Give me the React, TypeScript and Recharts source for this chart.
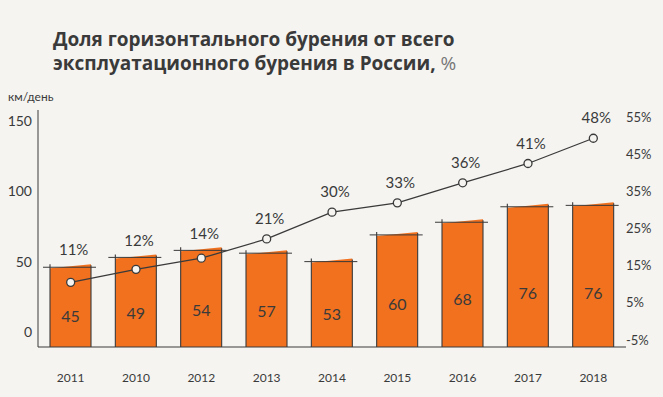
import React from 'react';
import { ComposedChart, Bar, Line, XAxis, YAxis, LabelList } from 'recharts';

const years = ['2011', '2010', '2012', '2013', '2014', '2015', '2016', '2017', '2018'];
const barHeights = [46, 53, 58, 56, 50, 69, 78, 89, 90];
const barLabels = ['45', '49', '54', '57', '53', '60', '68', '76', '76'];
const shareValues = [10.5, 14, 17, 22.2, 29.4, 31.9, 37.3, 42.5, 49.3];
const shareLabels = ['11%', '12%', '14%', '21%', '30%', '33%', '36%', '41%', '48%'];
const leftTicks = [0, 50, 100, 150];
const rightTicks = [-5, 5, 15, 25, 35, 45, 55];

const LEFT_DOMAIN: [number, number] = [-10.7, 157.8];
const RIGHT_DOMAIN: [number, number] = [-6.9, 56.9];
const W = 663;
const H = 397;
const M_TOP = 110;
const X_AXIS_H = 50;
const PLOT_H = H - M_TOP - X_AXIS_H;

const BG = '#F5F4F1';
const ORANGE = '#F1711F';
const INK = '#3a3a3a';
const HAND = 'Lato, "Open Sans", sans-serif';

const data = years.map((year, i) => ({
  year,
  bar: [LEFT_DOMAIN[0], barHeights[i]],
  barTop: barHeights[i],
  barLabel: barLabels[i],
  share: shareValues[i],
  shareLabel: shareLabels[i],
}));

const SketchBar = (props: any) => {
  const { x, y, width, height } = props;
  if (height == null || height <= 0) return null;
  const b = y + height;
  return (
    <g>
      <polygon
        points={`${x},${y + 1} ${x + width},${y - 3} ${x + width},${b} ${x},${b}`}
        fill={ORANGE}
      />
      <line x1={x} y1={y - 3} x2={x} y2={b} stroke={INK} strokeWidth={1.1} />
      <line x1={x + width} y1={y - 2} x2={x + width} y2={b} stroke={INK} strokeWidth={1.1} />
      <line x1={x - 7} y1={y} x2={x + width + 5} y2={y} stroke={INK} strokeWidth={1} />
    </g>
  );
};

const BarValueLabel = (props: any) => {
  const { x, y, width, height, value } = props;
  const cy = y + height - 0.38 * height;
  return (
    <text x={x + width / 2} y={cy} dy="0.35em" textAnchor="middle" fontFamily={HAND} fontSize={16} fill={INK}>
      {value}
    </text>
  );
};

const ShareLabel = (props: any) => {
  const { x, y, index, value } = props;
  const d = data[index];
  const pointFrac = (d.share - RIGHT_DOMAIN[0]) / (RIGHT_DOMAIN[1] - RIGHT_DOMAIN[0]);
  const barFrac = (d.barTop - LEFT_DOMAIN[0]) / (LEFT_DOMAIN[1] - LEFT_DOMAIN[0]);
  const barTopY = y + (pointFrac - barFrac) * PLOT_H;
  const ly = Math.min(y - 20, barTopY - 17);
  return (
    <text x={x + 3} y={ly} dy="0.35em" textAnchor="middle" fontFamily={HAND} fontSize={15} fill={INK}>
      {value}
    </text>
  );
};

const YearTick = (props: any) => {
  const { x, y, payload } = props;
  return (
    <text x={x} y={y + 35} textAnchor="middle" fontFamily={HAND} fontSize={12} fill={INK}>
      {payload.value}
    </text>
  );
};

export default function App() {
  return (
    <div style={{ position: 'absolute', left: 0, top: 0, width: W, height: H, background: BG, overflow: 'hidden' }}>
      <div
        style={{
          position: 'absolute',
          left: 53,
          top: 27,
          fontFamily: '"Open Sans", sans-serif',
          fontWeight: 700,
          fontSize: 19,
          lineHeight: '24px',
          color: INK,
          whiteSpace: 'nowrap',
        }}
      >
        <div style={{ height: 24 }}>Доля горизонтального бурения от всего</div>
        <div style={{ height: 24 }}>
          эксплуатационного бурения в России, <span style={{ fontWeight: 400, color: '#777' }}>%</span>
        </div>
      </div>
      <div
        style={{
          position: 'absolute',
          left: 8,
          top: 89,
          fontFamily: HAND,
          fontSize: 12,
          color: INK,
          whiteSpace: 'nowrap',
        }}
      >
        км/день
      </div>
      <div style={{ position: 'absolute', left: 0, top: 0 }}>
        <ComposedChart width={W} height={H} data={data} margin={{ top: M_TOP, right: 0, bottom: 0, left: 8 }}>
          <XAxis
            dataKey="year"
            height={X_AXIS_H}
            tickLine={false}
            tickSize={0}
            tickMargin={0}
            axisLine={{ stroke: INK, strokeWidth: 1 }}
            tick={<YearTick />}
            interval={0}
          />
          <YAxis
            yAxisId="left"
            orientation="left"
            width={30}
            domain={LEFT_DOMAIN}
            ticks={leftTicks}
            allowDataOverflow
            tickLine={false}
            tickSize={0}
            tickMargin={6}
            axisLine={{ stroke: INK, strokeWidth: 1 }}
            tick={{ fontFamily: HAND, fontSize: 14, fill: INK }}
          />
          <YAxis
            yAxisId="right"
            orientation="right"
            width={37}
            domain={RIGHT_DOMAIN}
            ticks={rightTicks}
            allowDataOverflow
            tickLine={false}
            axisLine={false}
            tickSize={0}
            tickMargin={0}
            tickFormatter={(v: number) => `${v}%`}
            tick={{ fontFamily: HAND, fontSize: 13, fill: INK, textAnchor: 'start' }}
          />
          <Bar yAxisId="left" dataKey="bar" barSize={41} shape={<SketchBar />} isAnimationActive={false}>
            <LabelList dataKey="barLabel" content={<BarValueLabel />} />
          </Bar>
          <Line
            yAxisId="right"
            dataKey="share"
            stroke={INK}
            strokeWidth={1.3}
            dot={{ r: 4, fill: BG, stroke: INK, strokeWidth: 1.3 }}
            isAnimationActive={false}
          >
            <LabelList dataKey="shareLabel" content={<ShareLabel />} />
          </Line>
        </ComposedChart>
      </div>
    </div>
  );
}
